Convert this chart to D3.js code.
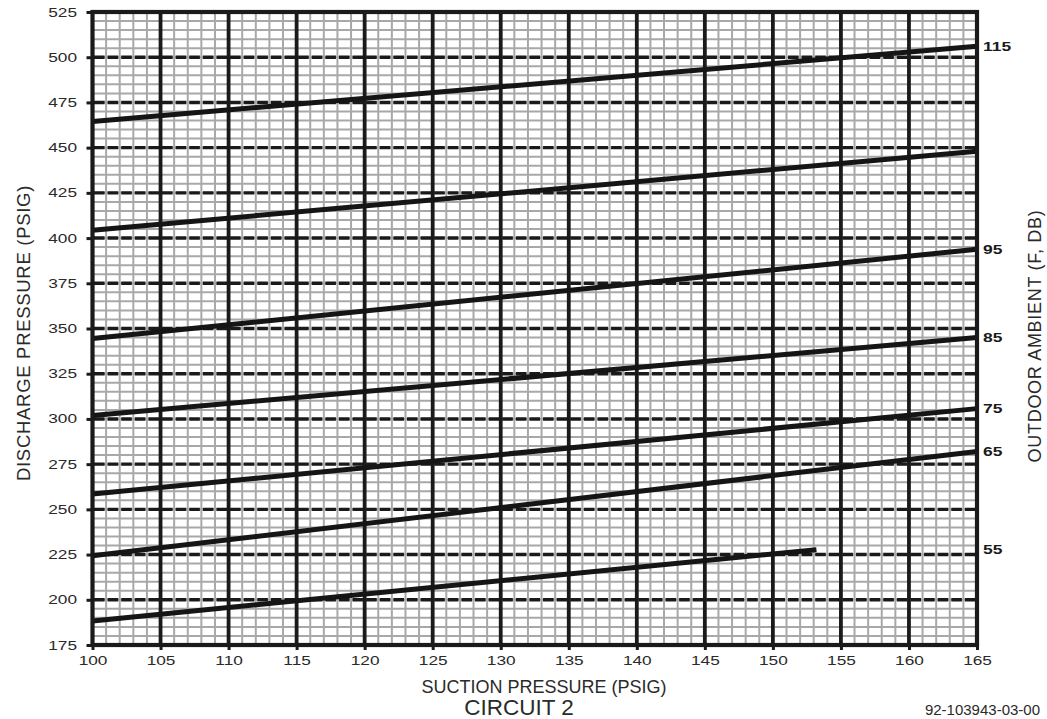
<!DOCTYPE html>
<html>
<head>
<meta charset="utf-8">
<script src="https://cdn.jsdelivr.net/npm/d3@7"></script>
<style>
  html, body { margin: 0; padding: 0; background: #fff; }
  svg { display: block; }
  text { font-family: "Liberation Sans", Arial, Helvetica, sans-serif; }
</style>
</head>
<body>
<svg id="chart" width="1047" height="719"></svg>
<script>
// ---- Data ----
const xTicks = [100, 105, 110, 115, 120, 125, 130, 135, 140, 145, 150, 155, 160, 165];
const yTicks = [175, 200, 225, 250, 275, 300, 325, 350, 375, 400, 425, 450, 475, 500, 525];
const ambientLabels = ["115", "", "95", "85", "75", "65", "55"];
const suctionStart = [100, 100, 100, 100, 100, 100, 100];
const suctionEnd = [165, 165, 165, 165, 165, 165, 153.2];
const dischargeStart = [464.5, 404.3, 344.5, 301.9, 258.5, 224.3, 188.3];
const dischargeEnd = [506.0, 448.0, 393.8, 345.0, 305.7, 282.0, 227.7];
const xTitle = "SUCTION PRESSURE (PSIG)";
const yTitle = "DISCHARGE PRESSURE (PSIG)";
const y2Title = "OUTDOOR AMBIENT (F, DB)";
const chartTitle = "CIRCUIT 2";
const docNumber = "92-103943-03-00";

const svg = d3.select("#chart");
const x = d3.scaleLinear().domain([100, 165]).range([92.5, 977]);
const y = d3.scaleLinear().domain([175, 525]).range([645, 12]);

const [x0, x1] = x.range();
const [yb, yt] = y.range();
const stretch = 1.38;

// minor grid
const minorX = d3.range(100, 165.001, 1);
const minorY = d3.range(175, 525.001, 5);
const g = svg.append("g");
g.selectAll("line.mx").data(minorX).join("line")
  .attr("x1", d => x(d)).attr("x2", d => x(d)).attr("y1", yt).attr("y2", yb)
  .attr("stroke", "#a8a8a8").attr("stroke-width", 2);
g.selectAll("line.my").data(minorY).join("line")
  .attr("y1", d => y(d)).attr("y2", d => y(d)).attr("x1", x0).attr("x2", x1)
  .attr("stroke", "#a8a8a8").attr("stroke-width", 2);

// major dashed horizontals
const period = x(101) - x(100);
const gap = 3;
g.selectAll("line.hy").data(yTicks.filter(d => d !== 175 && d !== 525)).join("line")
  .attr("y1", d => y(d)).attr("y2", d => y(d)).attr("x1", x0).attr("x2", x1)
  .attr("stroke", "#1a1a1a").attr("stroke-width", 3.4)
  .attr("stroke-dasharray", `${period - gap},${gap}`)
  .attr("stroke-dashoffset", -gap / 2);

// major verticals
g.selectAll("line.vx").data(xTicks.filter(d => d !== 100 && d !== 165)).join("line")
  .attr("x1", d => x(d)).attr("x2", d => x(d)).attr("y1", yt).attr("y2", yb)
  .attr("stroke", "#1a1a1a").attr("stroke-width", 3.8);

// data lines
const series = dischargeStart.map((d, i) => ({
  label: ambientLabels[i],
  pts: [[suctionStart[i], dischargeStart[i]], [suctionEnd[i], dischargeEnd[i]]]
}));
const line = d3.line().x(d => x(d[0])).y(d => y(d[1]));
svg.append("g").selectAll("path").data(series).join("path")
  .attr("d", d => line(d.pts))
  .attr("fill", "none").attr("stroke", "#151515").attr("stroke-width", 5)
  .attr("stroke-linecap", "butt");

// border
svg.append("rect").attr("x", x0).attr("y", yt).attr("width", x1 - x0).attr("height", yb - yt)
  .attr("fill", "none").attr("stroke", "#1a1a1a").attr("stroke-width", 4.2);

// axes
const yAxis = d3.axisLeft(y).tickValues(yTicks).tickSize(6).tickPadding(9);
const yg = svg.append("g").attr("transform", `translate(${x0},0)`).call(yAxis);
yg.select(".domain").remove();
yg.selectAll(".tick line").attr("stroke", "#1a1a1a").attr("stroke-width", 3);
yg.selectAll(".tick text").attr("font-size", 12.5).attr("fill", "#2a2a2a")
  .attr("font-family", "Liberation Sans, Arial, sans-serif")
  .attr("x", -15.5 / stretch)
  .attr("transform", `scale(${stretch},1)`);

const xAxis = d3.axisBottom(x).tickValues(xTicks).tickSize(5).tickPadding(6);
const xg = svg.append("g").attr("transform", `translate(0,${yb})`).call(xAxis);
xg.select(".domain").remove();
xg.selectAll(".tick line").attr("stroke", "#1a1a1a").attr("stroke-width", 3);
xg.selectAll(".tick text").attr("font-size", 12.5).attr("fill", "#2a2a2a")
  .attr("font-family", "Liberation Sans, Arial, sans-serif")
  .attr("transform", `scale(${stretch},1)`);

// right labels
svg.append("g").selectAll("text").data(series.filter(d => d.label)).join("text")
  .attr("transform", d => `translate(${x1 + 6},${y(d.pts[1][1])}) scale(1.4,1)`)
  .attr("dy", "0.35em")
  .attr("font-size", 12.5).attr("font-weight", "bold").attr("fill", "#1a1a1a")
  .text(d => d.label);

// titles
svg.append("text").attr("transform", `translate(30,333) rotate(-90)`)
  .attr("text-anchor", "middle").attr("font-size", 18.5).attr("letter-spacing", 0.7)
  .attr("fill", "#2a2a2a").text(yTitle);
svg.append("text").attr("transform", `translate(1041,336) rotate(-90)`)
  .attr("text-anchor", "middle").attr("font-size", 18).attr("letter-spacing", 0.7)
  .attr("fill", "#2a2a2a").text(y2Title);
svg.append("text").attr("x", 544).attr("y", 693)
  .attr("text-anchor", "middle").attr("font-size", 18).attr("fill", "#2a2a2a").text(xTitle);
svg.append("text").attr("x", 519).attr("y", 715)
  .attr("text-anchor", "middle").attr("font-size", 22.5).attr("fill", "#2a2a2a").text(chartTitle);
svg.append("text").attr("x", 1040).attr("y", 715).attr("text-anchor", "end")
  .attr("font-size", 15).attr("fill", "#2a2a2a").text(docNumber);
</script>
</body>
</html>
